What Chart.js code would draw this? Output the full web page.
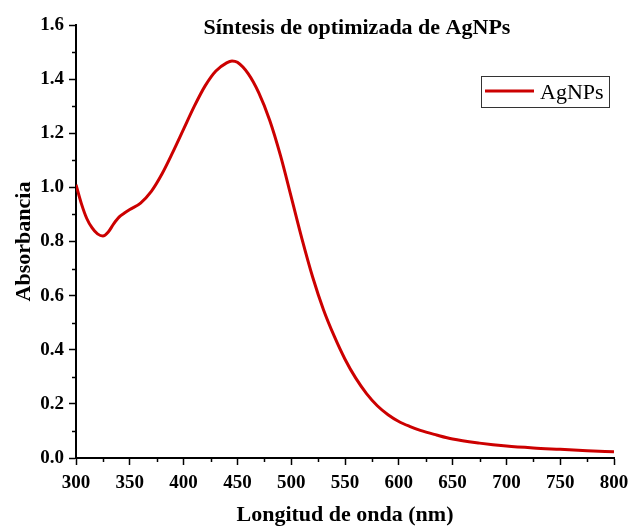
<!DOCTYPE html>
<html lang="es">
<head>
<meta charset="UTF-8">
<title>Síntesis de optimizada de AgNPs</title>
<script src="https://cdn.jsdelivr.net/npm/chart.js"></script>
<style>
  html, body { margin: 0; padding: 0; background: #fff; }
  #wrap { width: 631px; height: 529px; }
</style>
</head>
<body>
<div id="wrap"><canvas id="chart" width="631" height="529"></canvas></div>
<script>
// Espectro UV-Vis de las nanopartículas de plata
const longitudes = [300, 305, 310, 315, 320, 325, 330, 335, 340, 345, 350, 360, 370, 380, 390,
  400, 410, 420, 430, 440, 445, 450, 460, 470, 480, 490, 500, 510, 520, 530, 540, 550, 560,
  570, 580, 590, 600, 610, 620, 635, 650, 675, 700, 725, 750, 775, 800];
const absorbancia = [1.01, 0.94, 0.885, 0.85, 0.828, 0.82, 0.835, 0.865, 0.89, 0.905, 0.918,
  0.942, 0.985, 1.05, 1.13, 1.215, 1.3, 1.375, 1.43, 1.46, 1.467, 1.462, 1.42, 1.348,
  1.248, 1.118, 0.965, 0.81, 0.668, 0.548, 0.45, 0.365, 0.295, 0.238, 0.193, 0.16, 0.135,
  0.117, 0.102, 0.085, 0.07, 0.055, 0.044, 0.037, 0.032, 0.027, 0.023];

const xTicks = [300, 350, 400, 450, 500, 550, 600, 650, 700, 750, 800];
const yTicks = [0.0, 0.2, 0.4, 0.6, 0.8, 1.0, 1.2, 1.4, 1.6];

const serie = longitudes.map((x, i) => ({ x: x, y: absorbancia[i] }));
const fuente = "'Liberation Serif', 'Times New Roman', serif";

// marcas menores, título y leyenda con recuadro
const extras = {
  id: 'extras',
  afterDraw(chart) {
    const { ctx, scales: { x, y }, chartArea } = chart;
    ctx.save();
    ctx.strokeStyle = '#000';
    ctx.lineWidth = 1.5;
    for (let i = 0; i < xTicks.length - 1; i++) {
      const px = Math.round(x.getPixelForValue((xTicks[i] + xTicks[i + 1]) / 2)) + 0.5;
      ctx.beginPath();
      ctx.moveTo(px, chartArea.bottom);
      ctx.lineTo(px, chartArea.bottom + 4);
      ctx.stroke();
    }
    for (let i = 0; i < yTicks.length - 1; i++) {
      const py = Math.round(y.getPixelForValue((yTicks[i] + yTicks[i + 1]) / 2)) + 0.5;
      ctx.beginPath();
      ctx.moveTo(chartArea.left, py);
      ctx.lineTo(chartArea.left - 4, py);
      ctx.stroke();
    }

    ctx.fillStyle = '#000';
    ctx.font = 'bold 22px ' + fuente;
    ctx.textAlign = 'center';
    ctx.textBaseline = 'alphabetic';
    ctx.fillText('Síntesis de optimizada de AgNPs', 357, 34);

    // leyenda
    const ds = chart.data.datasets[0];
    ctx.strokeStyle = '#333';
    ctx.lineWidth = 1;
    ctx.strokeRect(481.5, 76.5, 128, 31);
    ctx.strokeStyle = ds.borderColor;
    ctx.lineWidth = 3;
    ctx.beginPath();
    ctx.moveTo(485, 91);
    ctx.lineTo(534, 91);
    ctx.stroke();
    ctx.font = '22px ' + fuente;
    ctx.textAlign = 'left';
    ctx.fillStyle = '#000';
    ctx.fillText(ds.label, 540, 99);
    ctx.restore();
  }
};

new Chart(document.getElementById('chart'), {
  type: 'line',
  data: {
    datasets: [{
      label: 'AgNPs',
      data: serie,
      borderColor: '#cc0000',
      borderWidth: 3,
      pointRadius: 0,
      cubicInterpolationMode: 'monotone',
      fill: false
    }]
  },
  options: {
    responsive: false,
    animation: false,
    layout: { padding: { top: 25, right: 17, left: 0, bottom: 0 } },
    plugins: { legend: { display: false }, title: { display: false }, tooltip: { enabled: false } },
    scales: {
      x: {
        type: 'linear',
        min: 300,
        max: 800,
        afterFit(scale) {
          scale.height = 71;
          scale.paddingLeft = 0;
          scale.paddingRight = 0;
        },
        afterBuildTicks(scale) { scale.ticks = xTicks.map(v => ({ value: v })); },
        border: { display: true, color: '#000', width: 2 },
        grid: { drawOnChartArea: false, tickLength: 7, tickWidth: 1.5, tickColor: '#000' },
        ticks: { color: '#000', padding: 7, maxRotation: 0, font: { family: fuente, size: 19, weight: 'bold' } },
        title: {
          display: true,
          text: 'Longitud de onda (nm)',
          color: '#000',
          padding: { top: 0, bottom: 0 },
          font: { family: fuente, size: 22, weight: 'bold' }
        }
      },
      y: {
        min: 0,
        max: 1.6,
        afterFit(scale) {
          scale.width = 76;
          scale.paddingTop = 0;
          scale.paddingBottom = 0;
        },
        afterBuildTicks(scale) { scale.ticks = yTicks.map(v => ({ value: v })); },
        border: { display: true, color: '#000', width: 2 },
        grid: { drawOnChartArea: false, tickLength: 7, tickWidth: 1.5, tickColor: '#000' },
        ticks: {
          color: '#000',
          padding: 5,
          font: { family: fuente, size: 19, weight: 'bold' },
          callback: v => v.toFixed(1)
        },
        title: {
          display: true,
          text: 'Absorbancia',
          color: '#000',
          padding: { top: 11, bottom: 0 },
          font: { family: fuente, size: 22, weight: 'bold' }
        }
      }
    }
  },
  plugins: [extras]
});
</script>
</body>
</html>
